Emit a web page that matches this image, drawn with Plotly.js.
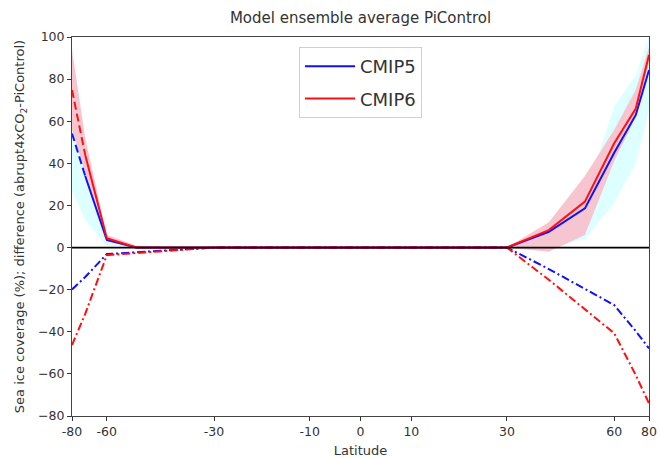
<!DOCTYPE html>
<html>
<head>
<meta charset="utf-8">
<script src="https://cdn.plot.ly/plotly-3.0.1.min.js"></script>
<style>html,body{margin:0;padding:0;background:#fff;}#chart{width:659px;height:458px;}</style>
</head>
<body>
<div id="chart"></div>
<script>
// Latitudes of the data points
const lats = [-80, -70, -60, -50, -40, -30, -20, -10, 0, 10, 20, 30, 40, 50, 60, 70, 80];

// PiControl sea ice coverage (%), ensemble mean (solid lines)
const cmip5Mean = [null, 34, 3.6, 0, 0, 0, 0, 0, 0, 0, 0, 0, 7.5, 18.6, 45, 63, 84.3];
const cmip6Mean = [null, 44, 4.4, 0, 0, 0, 0, 0, 0, 0, 0, 0, 8.3, 21.8, 49.5, 66, 91.4];

// Dashed segment at the southern edge
const edgeLats = [-80, -70];
const cmip5Edge = [54.2, 34];
const cmip6Edge = [74.8, 44];

// Spread bands
const cmip5Upper = [70, 40, 6, 1, 0, 0, 0, 0, 0, 0, 0, 0, 9, 25, 67, 82, 100];
const cmip5Lower = [27, 13, 1, 0, 0, 0, 0, 0, 0, 0, 0, 0, 0, 4, 21, 40, 65];
const cmip6Upper = [94, 52, 6, 1, 0, 0, 0, 0, 0, 0, 0, 0, 12, 34, 56, 75, 95];
const cmip6Lower = [56, 36, 3, 0, 0, 0, 0, 0, 0, 0, 0, 0, -2, 6, 41, 62, 88];

// Difference abrupt4xCO2 - PiControl (dash-dot lines)
const cmip5Diff = [-19.9, -14, -3.1, -2.3, -1.1, 0, 0, 0, 0, 0, 0, 0, -10.2, -19.6, -27.3, -39.7, -47.9];
const cmip6Diff = [-46.3, -31.5, -3.6, -2.6, -1.3, 0, 0, 0, 0, 0, 0, 0, -15.3, -29.4, -40.7, -60.6, -74];

// Axis ticks
const xTickLats = [-80, -60, -30, -10, 0, 10, 30, 60, 80];
const xTickText = ['-80', '-60', '-30', '-10', '0', '10', '30', '60', '80'];

const sinLat = lat => Math.sin(lat * Math.PI / 180);
const X = lats.map(sinLat);

function band(upper, lower, color) {
  return {
    x: X.concat(X.slice().reverse()),
    y: upper.concat(lower.slice().reverse()),
    fill: 'toself', fillcolor: color, line: {width: 0, color: color},
    mode: 'lines', showlegend: false, hoverinfo: 'skip'
  };
}

const BLUE = '#1010ff', RED = '#ff1010';
const traces = [
  band(cmip5Upper, cmip5Lower, 'rgb(222,255,255)'),
  band(cmip6Upper, cmip6Lower, 'rgba(246,192,204,0.92)'),
  {x: edgeLats.map(sinLat), y: cmip5Edge, mode: 'lines', line: {color: BLUE, width: 2, dash: '8px,4px'}, showlegend: false},
  {x: edgeLats.map(sinLat), y: cmip6Edge, mode: 'lines', line: {color: RED, width: 2, dash: '8px,4px'}, showlegend: false},
  {x: X, y: cmip5Diff, mode: 'lines', line: {color: BLUE, width: 2, dash: '8px,3px,2px,3px'}, showlegend: false},
  {x: X, y: cmip6Diff, mode: 'lines', line: {color: RED, width: 2, dash: '8px,3px,2px,3px'}, showlegend: false},
  {x: X, y: cmip5Mean, name: 'CMIP5', legendgroup: 'a', mode: 'lines', line: {color: BLUE, width: 2}},
  {x: X, y: cmip6Mean, name: 'CMIP6', legendgroup: 'b', mode: 'lines', line: {color: RED, width: 2}}
];

const layout = {
  width: 659, height: 458,
  margin: {l: 72, r: 10, t: 37, b: 42},
  paper_bgcolor: '#fff', plot_bgcolor: '#fff',
  font: {family: 'DejaVu Sans, sans-serif', size: 12.5, color: '#333'},
  title: {text: 'Model ensemble average PiControl', font: {size: 15, color: '#333'},
          x: 0.5, xref: 'paper', xanchor: 'center', y: 1 - 18 / 458, yref: 'container', yanchor: 'middle'},
  xaxis: {
    range: [sinLat(-80), sinLat(80)],
    tickmode: 'array', tickvals: xTickLats.map(sinLat), ticktext: xTickText,
    ticks: 'outside', ticklen: 4, tickcolor: '#333',
    showline: true, mirror: true, linecolor: '#444', linewidth: 1,
    showgrid: false, zeroline: false,
    title: {text: 'Latitude', font: {size: 13}, standoff: 9}
  },
  yaxis: {
    range: [-80, 100], tickmode: 'linear', tick0: -80, dtick: 20,
    ticks: 'outside', ticklen: 4, tickcolor: '#333',
    showline: true, mirror: true, linecolor: '#444', linewidth: 1,
    showgrid: false, zeroline: false,
    title: {text: 'Sea ice coverage (%); difference (abrupt4xCO<sub>2</sub>-PiControl)', font: {size: 13}, standoff: 10}
  },
  shapes: [{type: 'line', xref: 'paper', x0: 0, x1: 1, yref: 'y', y0: 0, y1: 0, line: {color: '#000', width: 1.8}, layer: 'above'}],
  legend: {
    x: 0.5, xanchor: 'center', y: (416 - 47) / 379, yanchor: 'top',
    bgcolor: '#fff', bordercolor: '#d0d0d0', borderwidth: 1,
    font: {size: 18, color: '#333'},
    traceorder: 'grouped', tracegroupgap: 6, itemwidth: 50
  }
};

Plotly.newPlot('chart', traces, layout, {displayModeBar: false, staticPlot: true});
</script>
</body>
</html>
